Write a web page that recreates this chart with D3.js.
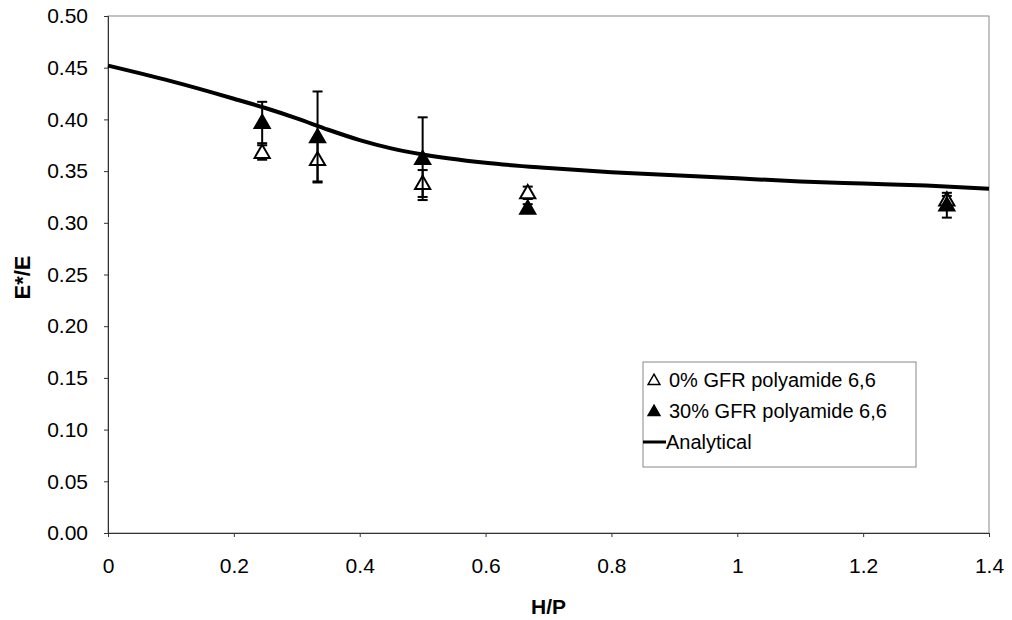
<!DOCTYPE html>
<html>
<head>
<meta charset="utf-8">
<script src="https://cdn.jsdelivr.net/npm/d3@7"></script>
<style>
  body { margin: 0; background: #fff; }
  svg { font-family: "Liberation Sans", Arial, sans-serif; }
</style>
</head>
<body>
<div id="chart"></div>
<script>
// measured points (H/P vs E*/E)
const hp = [0.245, 0.333, 0.5, 0.667, 1.333];
const gfr0 = [0.368, 0.361, 0.338, 0.329, 0.322];
const gfr0Err = [0.007, 0.021, 0.013, 0.006, 0.004];
const gfr30 = [0.397, 0.383, 0.362, 0.314, 0.317];
const gfr30Err = [0.020, 0.044, 0.040, 0.004, 0.012];

// analytical curve
const curveX = [0, 0.1, 0.2, 0.25, 0.3, 0.35, 0.4, 0.45, 0.5, 0.6, 0.7, 0.8, 0.9, 1.0, 1.1, 1.2, 1.3, 1.4];
const curveY = [0.452, 0.437, 0.420, 0.411, 0.401, 0.390, 0.380, 0.372, 0.366, 0.358, 0.353, 0.349, 0.346, 0.343, 0.340, 0.338, 0.336, 0.333];

const xTicks = [0, 0.2, 0.4, 0.6, 0.8, 1, 1.2, 1.4];
const yTicks = [0, 0.05, 0.1, 0.15, 0.2, 0.25, 0.3, 0.35, 0.4, 0.45, 0.5];

const width = 1012, height = 620;
const margin = { top: 16, right: 23, bottom: 87, left: 108 };

const svg = d3.select('#chart').append('svg')
  .attr('width', width)
  .attr('height', height);

const x = d3.scaleLinear().domain([0, 1.4]).range([margin.left, width - margin.right]);
const y = d3.scaleLinear().domain([0, 0.5]).range([height - margin.bottom, margin.top]);

// plot frame
svg.append('rect')
  .attr('x', x(0)).attr('y', y(0.5))
  .attr('width', x(1.4) - x(0)).attr('height', y(0) - y(0.5))
  .attr('fill', 'none').attr('stroke', '#888').attr('stroke-width', 1);

// axes
const xAxis = svg.append('g')
  .attr('transform', `translate(0,${y(0)})`)
  .call(d3.axisBottom(x).tickValues(xTicks).tickSize(4).tickPadding(21)
    .tickFormat(d => d === 0 ? '0' : d3.format('')(d)));
const yAxis = svg.append('g')
  .attr('transform', `translate(${x(0)},0)`)
  .call(d3.axisLeft(y).tickValues(yTicks).tickSize(4).tickPadding(16)
    .tickFormat(d3.format('.2f')));

[xAxis, yAxis].forEach(g => {
  g.select('.domain').attr('stroke', '#333');
  g.selectAll('.tick line').attr('stroke', '#333');
  g.selectAll('.tick text')
    .attr('font-size', 21)
    .attr('fill', '#000')
    .style('font-family', '"Liberation Sans", Arial, sans-serif');
});

// axis titles
svg.append('text')
  .attr('x', (x(0) + x(1.4)) / 2)
  .attr('y', 614)
  .attr('text-anchor', 'middle')
  .attr('font-size', 21).attr('font-weight', 'bold')
  .text('H/P');
svg.append('text')
  .attr('transform', `translate(30,${y(0.25) + 3}) rotate(-90)`)
  .attr('text-anchor', 'middle')
  .attr('font-size', 22).attr('font-weight', 'bold')
  .text('E*/E');

// analytical line
const line = d3.line()
  .x((d, i) => x(curveX[i]))
  .y(d => y(d))
  .curve(d3.curveMonotoneX);
svg.append('path')
  .datum(curveY)
  .attr('d', line)
  .attr('fill', 'none')
  .attr('stroke', '#000')
  .attr('stroke-width', 4);

const tri = d3.symbol().type(d3.symbolTriangle).size(100);

function drawSeries(vals, errs, filled) {
  const g = svg.append('g');
  const pts = vals.map((v, i) => ({ x: hp[i], v: v, e: errs[i] }));
  // error bars
  pts.forEach(p => {
    const cx = x(p.x);
    g.append('line')
      .attr('x1', cx).attr('x2', cx)
      .attr('y1', y(p.v - p.e)).attr('y2', y(p.v + p.e))
      .attr('stroke', '#000').attr('stroke-width', 2);
    [p.v - p.e, p.v + p.e].forEach(t => {
      g.append('line')
        .attr('x1', cx - 5).attr('x2', cx + 5)
        .attr('y1', y(t)).attr('y2', y(t))
        .attr('stroke', '#000').attr('stroke-width', 2);
    });
  });
  g.selectAll('path')
    .data(pts)
    .enter()
    .append('path')
    .attr('d', tri)
    .attr('transform', d => `translate(${x(d.x)},${y(d.v) + 1})`)
    .attr('fill', filled ? '#000' : '#fff')
    .attr('stroke', '#000')
    .attr('stroke-width', 2);
}
drawSeries(gfr0, gfr0Err, false);
drawSeries(gfr30, gfr30Err, true);

// legend
const lg = svg.append('g').attr('transform', 'translate(643,362)');
lg.append('rect')
  .attr('width', 273).attr('height', 105)
  .attr('fill', '#fff').attr('stroke', '#888');
const legendItems = [
  { label: '0% GFR polyamide 6,6', kind: 'open' },
  { label: '30% GFR polyamide 6,6', kind: 'filled' },
  { label: 'Analytical', kind: 'line' }
];
legendItems.forEach((d, i) => {
  const cy = 18 + i * 31;
  if (d.kind === 'line') {
    lg.append('line')
      .attr('x1', 0).attr('x2', 23).attr('y1', cy).attr('y2', cy)
      .attr('stroke', '#000').attr('stroke-width', 3);
  } else {
    lg.append('path')
      .attr('d', d3.symbol().type(d3.symbolTriangle).size(60))
      .attr('transform', `translate(11,${cy + 1})`)
      .attr('fill', d.kind === 'filled' ? '#000' : '#fff')
      .attr('stroke', '#000').attr('stroke-width', 1.5);
  }
  lg.append('text')
    .attr('x', d.kind === 'line' ? 23 : 26)
    .attr('y', cy + 7)
    .attr('font-size', 20)
    .text(d.label);
});
</script>
</body>
</html>
